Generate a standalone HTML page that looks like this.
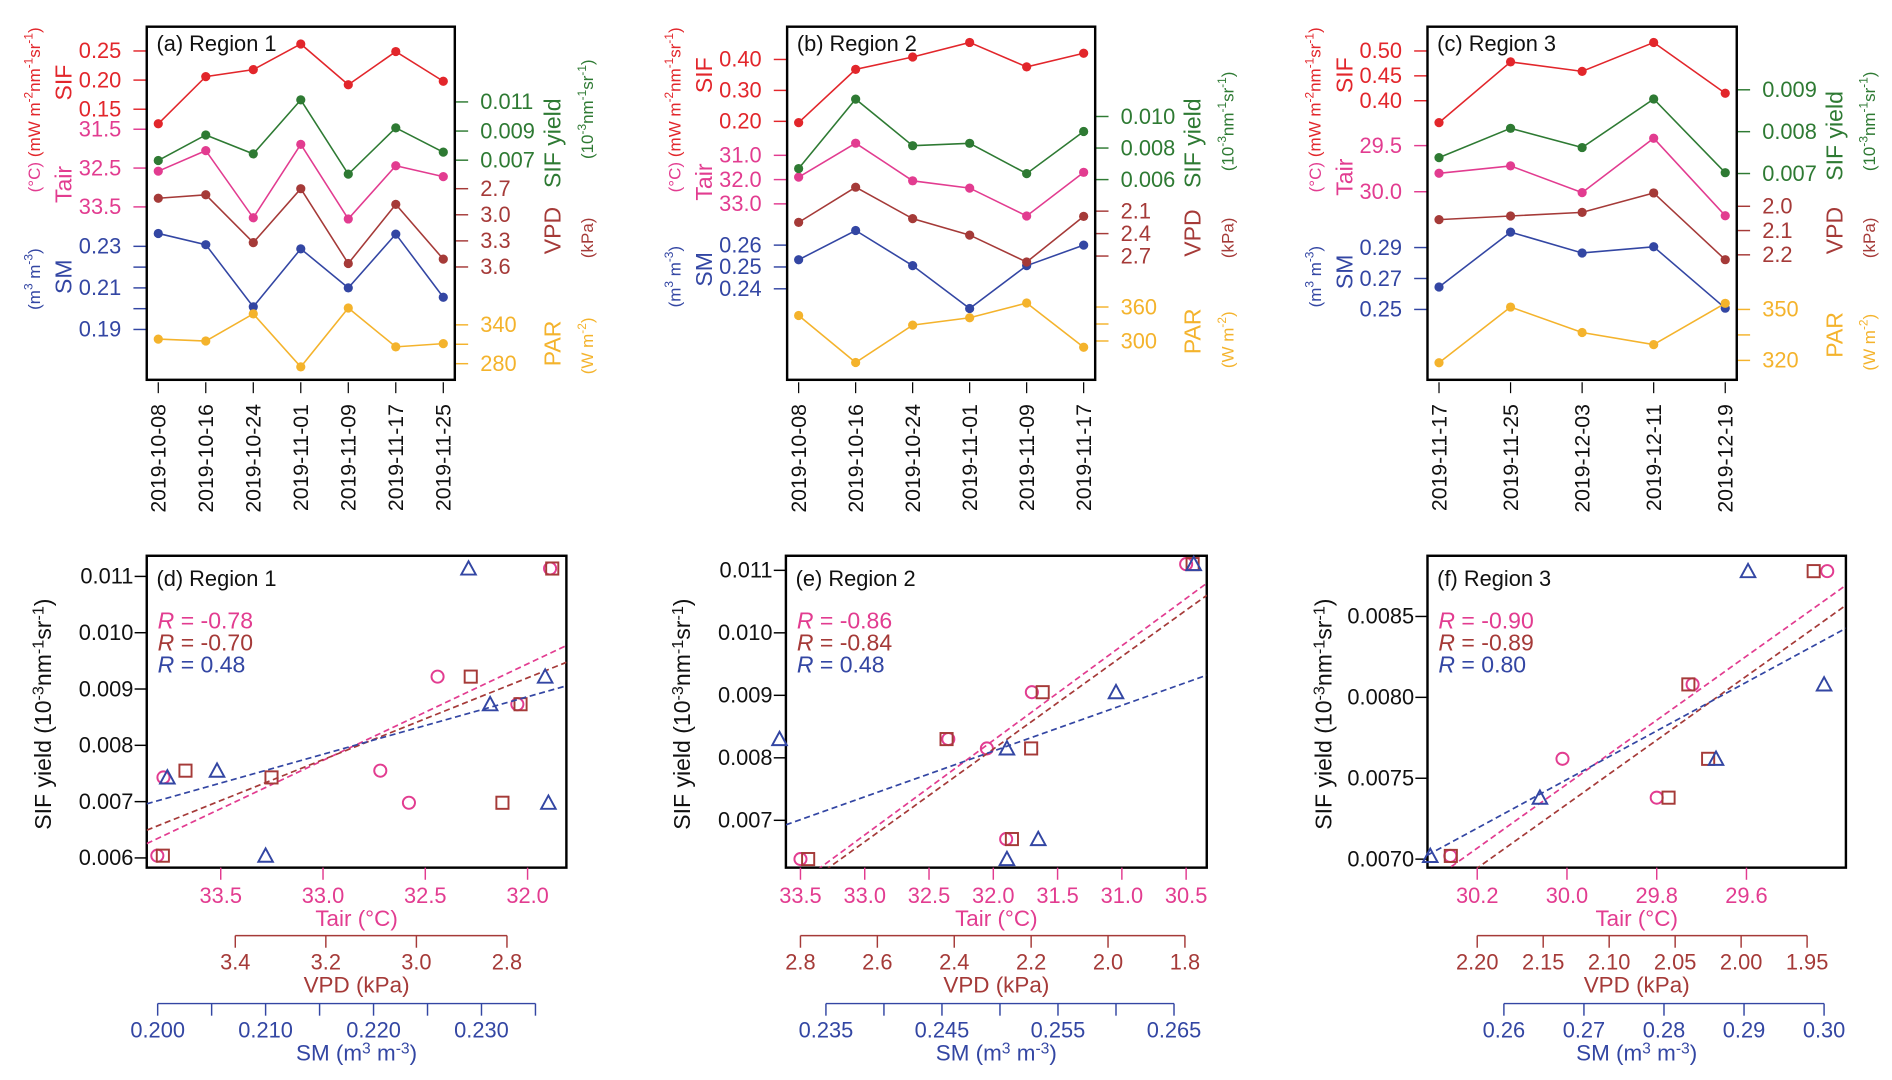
<!DOCTYPE html>
<html><head><meta charset="utf-8">
<style>
html,body{margin:0;padding:0;background:#fff;}
svg{display:block;font-family:"Liberation Sans",Arial,sans-serif;}
</style></head>
<body>
<svg id="fig" xmlns="http://www.w3.org/2000/svg" width="1892" height="1080" viewBox="0 0 1560 890" preserveAspectRatio="none">
<defs>
<clipPath id="clipD"><rect x="121" y="458" width="346" height="257"/></clipPath>
<clipPath id="clipE"><rect x="648" y="458" width="347" height="257"/></clipPath>
<clipPath id="clipF"><rect x="1177" y="458" width="345" height="257"/></clipPath>
</defs>
</svg>
<script>
// ---- data ----
const datesA=["2019-10-08","2019-10-16","2019-10-24","2019-11-01","2019-11-09","2019-11-17","2019-11-25"];
const sifA=[0.125,0.206,0.218,0.262,0.192,0.249,0.198];
const yieldA=[0.00698,0.00873,0.00743,0.01114,0.00604,0.00922,0.00755];
const tairA=[32.58,32.05,33.78,31.89,33.81,32.44,32.72];
const vpdA=[2.81,2.77,3.32,2.70,3.56,2.88,3.51];
const smA=[0.2362,0.2308,0.2009,0.2288,0.2100,0.2359,0.2055];
const parA=[318,315,357,275,366,306,311];

const datesB=["2019-10-08","2019-10-16","2019-10-24","2019-11-01","2019-11-09","2019-11-17"];
const sifB=[0.196,0.368,0.408,0.455,0.376,0.42];
const yieldB=[0.0067,0.0111,0.00815,0.0083,0.00638,0.00905];
const tairB=[31.9,30.5,32.05,32.35,33.5,31.7];
const vpdB=[2.25,1.78,2.2,2.42,2.78,2.17];
const smB=[0.2533,0.2667,0.2506,0.231,0.2506,0.26];
const parB=[345,262,328,341,367,289];

const datesC=["2019-11-17","2019-11-25","2019-12-03","2019-12-11","2019-12-19"];
const sifC=[0.356,0.478,0.459,0.517,0.415];
const yieldC=[0.00738,0.00808,0.00762,0.00878,0.00702];
const tairC=[29.80,29.72,30.01,29.42,30.26];
const vpdC=[2.055,2.04,2.025,1.945,2.22];
const smC=[0.2645,0.30,0.2865,0.2905,0.2508];
const parC=[318.6,351.4,336.4,329.3,353.6];

const rD=["-0.78","-0.70","0.48"];
const rE=["-0.86","-0.84","0.48"];
const rF=["-0.90","-0.89","0.80"];

// ---- helpers ----
const NS='http://www.w3.org/2000/svg';
const svg=document.getElementById('fig');
const COL={sif:'#e2262b',yield:'#2e7a33',tair:'#e23c90',vpd:'#a53a38',sm:'#3346a3',par:'#f4b32c',k:'#111'};
function mk(tag,attrs,parent){const e=document.createElementNS(NS,tag);for(const k in attrs)e.setAttribute(k,attrs[k]);(parent||svg).appendChild(e);return e;}
function lin(d0,d1,r0,r1){return v=>r0+(v-d0)*(r1-r0)/(d1-d0);}
function txt(x,y,s,attrs,parent){const t=mk('text',Object.assign({x:x,y:y},attrs||{}),parent);t.textContent=s;return t;}
function rich(t,parts){parts.forEach(p=>{const s=document.createElementNS(NS,'tspan');s.textContent=p[0];if(p[1]){s.setAttribute('dy','-6');s.setAttribute('font-size','0.7em');}else if(p[2]){s.setAttribute('dy','6');}t.appendChild(s);});}

function tsPanel(cfg){
  const g=mk('g',{});
  
  
  const b=cfg.box,n=cfg.dates.length;
  const xp=i=>b.x0+9.5+i*(b.x1-b.x0-19)/(n-1);
  cfg.series.forEach(s=>{
    const sc=lin(s.dom[0],s.dom[1],s.rng[0],s.rng[1]);
    const left=s.side==='L';
    const ax=left?b.x0:b.x1, dir=left?-1:1;
    const tp=s.ticks.map(sc);
    const ag=mk('g',{},g);
    
    
    mk('line',{x1:ax,x2:ax,y1:Math.min(...tp),y2:Math.max(...tp),stroke:s.color,'stroke-width':1.2},ag);
    s.ticks.forEach((tv,i)=>{
      mk('line',{x1:ax,x2:ax+dir*11,y1:sc(tv),y2:sc(tv),stroke:s.color,'stroke-width':1.2},ag);
      if(s.labels[i]!=='') txt(ax+dir*21,sc(tv)+6,s.labels[i],{'font-size':18,fill:s.color,'text-anchor':left?'end':'start'},ag);
    });
    const cy=s.tcy!==undefined?s.tcy:(Math.min(...tp)+Math.max(...tp))/2;
    const tx=left?b.x0-62:b.x1+87;
    const t1=txt(tx,cy,s.title,{'font-size':19,fill:s.color,'text-anchor':'middle',transform:'rotate(-90 '+tx+' '+cy+')'},ag);
    
    
    const ux=left?b.x0-88:b.x1+114;
    const ucy=s.ucy!==undefined?s.ucy:cy;
    const t2=mk('text',{x:ux,y:ucy,'font-size':14,fill:s.color,'text-anchor':'middle',transform:'rotate(-90 '+ux+' '+ucy+')'},ag);
    rich(t2,s.unit);
    
    
    const pts=s.data.map((v,i)=>xp(i)+','+sc(v)).join(' ');
    const pl=mk('polyline',{points:pts,fill:'none',stroke:s.color,'stroke-width':1.3},g);
    
    
    s.data.forEach((v,i)=>{
      const c=mk('circle',{cx:xp(i),cy:sc(v),r:3.8,fill:s.color},g);
      
      
    });
  });
  const box=mk('rect',{x:b.x0,y:b.y0,width:b.x1-b.x0,height:b.y1-b.y0,fill:'none',stroke:'#000','stroke-width':2},g);
  
  
  const lab=txt(b.x0+8,b.y0+20,cfg.label,{'font-size':18,fill:'#111'},g);
  
  
  cfg.dates.forEach((d,i)=>{
    mk('line',{x1:xp(i),x2:xp(i),y1:b.y1+2,y2:b.y1+11,stroke:'#000','stroke-width':1},g);
    const t=txt(xp(i)+6,b.y1+20,d,{'font-size':17.5,'text-anchor':'end',transform:'rotate(-90 '+(xp(i)+6)+' '+(b.y1+20)+')',fill:'#111'},g);
    
    
  });
}
const U={
  sif:[['(mW m'],['-2',1],['nm',0,1],['-1',1],['sr',0,1],['-1',1],[')',0,1]],
  tair:[['(°C)']],
  sm:[['(m'],['3',1],[' m',0,1],['-3',1],[')',0,1]],
  yield:[['(10'],['-3',1],['nm',0,1],['-1',1],['sr',0,1],['-1',1],[')',0,1]],
  vpd:[['(kPa)']],
  par:[['(W m'],['-2',1],[')',0,1]]
};

tsPanel({name:'panel-a-region1',label:'(a) Region 1',box:{x0:121,x1:375,y0:22,y1:313},dates:datesA,series:[
  {key:'sif',data:sifA,color:COL.sif,side:'L',dom:[0.15,0.25],rng:[90,42],ticks:[0.15,0.20,0.25],labels:['0.15','0.20','0.25'],title:'SIF',unit:U.sif,tcy:68,ucy:76},
  {key:'tair',data:tairA,color:COL.tair,side:'L',dom:[31.5,33.5],rng:[106.5,170.5],ticks:[31.5,32.5,33.5],labels:['31.5','32.5','33.5'],title:'Tair',unit:U.tair,tcy:152,ucy:146},
  {key:'sm',data:smA,color:COL.sm,side:'L',dom:[0.19,0.23],rng:[271.5,203],ticks:[0.19,0.20,0.21,0.22,0.23],labels:['0.19','','0.21','','0.23'],title:'SM',unit:U.sm,tcy:228,ucy:230},
  {key:'yield',data:yieldA,color:COL.yield,side:'R',dom:[0.007,0.011],rng:[132,84],ticks:[0.007,0.009,0.011],labels:['0.007','0.009','0.011'],title:'SIF yield',unit:U.yield,tcy:118,ucy:90},
  {key:'vpd',data:vpdA,color:COL.vpd,side:'R',dom:[2.7,3.6],rng:[155.5,220],ticks:[2.7,3.0,3.3,3.6],labels:['2.7','3.0','3.3','3.6'],title:'VPD',unit:U.vpd,tcy:190,ucy:196},
  {key:'par',data:parA,color:COL.par,side:'R',dom:[280,340],rng:[299.7,267.7],ticks:[280,310,340],labels:['280','','340'],title:'PAR',unit:U.par,tcy:283,ucy:285}
]});
tsPanel({name:'panel-b-region2',label:'(b) Region 2',box:{x0:649,x1:903,y0:22,y1:313},dates:datesB,series:[
  {key:'sif',data:sifB,color:COL.sif,side:'L',dom:[0.2,0.4],rng:[100,49],ticks:[0.2,0.3,0.4],labels:['0.20','0.30','0.40'],title:'SIF',unit:U.sif,tcy:62,ucy:76},
  {key:'tair',data:tairB,color:COL.tair,side:'L',dom:[31,33],rng:[128,168],ticks:[31,32,33],labels:['31.0','32.0','33.0'],title:'Tair',unit:U.tair,tcy:150,ucy:146},
  {key:'sm',data:smB,color:COL.sm,side:'L',dom:[0.24,0.26],rng:[238,202],ticks:[0.24,0.25,0.26],labels:['0.24','0.25','0.26'],title:'SM',unit:U.sm,tcy:222,ucy:228},
  {key:'yield',data:yieldB,color:COL.yield,side:'R',dom:[0.006,0.010],rng:[148,96],ticks:[0.006,0.008,0.010],labels:['0.006','0.008','0.010'],title:'SIF yield',unit:U.yield,tcy:118,ucy:100},
  {key:'vpd',data:vpdB,color:COL.vpd,side:'R',dom:[2.1,2.7],rng:[174,211],ticks:[2.1,2.4,2.7],labels:['2.1','2.4','2.7'],title:'VPD',unit:U.vpd,tcy:192,ucy:196},
  {key:'par',data:parB,color:COL.par,side:'R',dom:[300,360],rng:[281,253],ticks:[300,330,360],labels:['300','','360'],title:'PAR',unit:U.par,tcy:273,ucy:280}
]});
tsPanel({name:'panel-c-region3',label:'(c) Region 3',box:{x0:1177,x1:1432,y0:22,y1:313},dates:datesC,series:[
  {key:'sif',data:sifC,color:COL.sif,side:'L',dom:[0.40,0.50],rng:[83,42],ticks:[0.40,0.45,0.50],labels:['0.40','0.45','0.50'],title:'SIF',unit:U.sif,tcy:62,ucy:76},
  {key:'tair',data:tairC,color:COL.tair,side:'L',dom:[29.5,30.0],rng:[120,158],ticks:[29.5,30.0],labels:['29.5','30.0'],title:'Tair',unit:U.tair,tcy:146,ucy:146},
  {key:'sm',data:smC,color:COL.sm,side:'L',dom:[0.25,0.29],rng:[255,204],ticks:[0.25,0.27,0.29],labels:['0.25','0.27','0.29'],title:'SM',unit:U.sm,tcy:224,ucy:228},
  {key:'yield',data:yieldC,color:COL.yield,side:'R',dom:[0.007,0.009],rng:[143,74],ticks:[0.007,0.008,0.009],labels:['0.007','0.008','0.009'],title:'SIF yield',unit:U.yield,tcy:112,ucy:100},
  {key:'vpd',data:vpdC,color:COL.vpd,side:'R',dom:[2.0,2.2],rng:[170,210],ticks:[2.0,2.1,2.2],labels:['2.0','2.1','2.2'],title:'VPD',unit:U.vpd,tcy:190,ucy:196},
  {key:'par',data:parC,color:COL.par,side:'R',dom:[320,350],rng:[297,255],ticks:[320,335,350],labels:['320','','350'],title:'PAR',unit:U.par,tcy:276,ucy:282}
]});

// ---- scatter panels ----
function fit(x,y){const n=x.length,mx=x.reduce((a,b)=>a+b)/n,my=y.reduce((a,b)=>a+b)/n;let sxy=0,sxx=0;for(let i=0;i<n;i++){sxy+=(x[i]-mx)*(y[i]-my);sxx+=(x[i]-mx)**2;}const b=sxy/sxx;return [my-b*mx,b];}
function scPanel(cfg){
  const g=mk('g',{});
  
  
  const b=cfg.box;
  const ys=lin(cfg.y.dom[0],cfg.y.dom[1],cfg.y.rng[0],cfg.y.rng[1]);
  const box=mk('rect',{x:b.x0,y:b.y0,width:b.x1-b.x0,height:b.y1-b.y0,fill:'none',stroke:'#000','stroke-width':2},g);
  
  
  const lab=txt(b.x0+8,b.y0+25,cfg.label,{'font-size':18,fill:'#111'},g);
  
  
  const yg=mk('g',{},g);
  
  
  const ytp=cfg.y.ticks.map(ys);
  mk('line',{x1:b.x0,x2:b.x0,y1:Math.min(...ytp),y2:Math.max(...ytp),stroke:'#000'},yg);
  cfg.y.ticks.forEach((t,i)=>{mk('line',{x1:b.x0-10,x2:b.x0,y1:ys(t),y2:ys(t),stroke:'#000','stroke-width':1.2},yg);txt(b.x0-11,ys(t)+6,cfg.y.labels[i],{'font-size':18,'text-anchor':'end',fill:'#111'},yg);});
  const tx=b.x0-79,ty=(b.y0+b.y1)/2+2;
  const yt=mk('text',{x:tx,y:ty,'font-size':19,'text-anchor':'middle',fill:'#111',transform:'rotate(-90 '+tx+' '+ty+')'},yg);
  rich(yt,[['SIF yield (10'],['-3',1],['nm',0,1],['-1',1],['sr',0,1],['-1',1],[')',0,1]]);
  
  
  const axes=[
    {key:'tair',a:cfg.tair,color:COL.tair,ly:b.y1,title:[['Tair (°C)']],sym:'circle'},
    {key:'vpd',a:cfg.vpd,color:COL.vpd,ly:771,title:[['VPD (kPa)']],sym:'square'},
    {key:'sm',a:cfg.sm,color:COL.sm,ly:827,title:[['SM (m'],['3',1],[' m',0,1],['-3',1],[')',0,1]],sym:'tri'}
  ];
  axes.forEach(A=>{
    const xs=lin(A.a.dom[0],A.a.dom[1],A.a.rng[0],A.a.rng[1]);
    const xi=lin(A.a.rng[0],A.a.rng[1],A.a.dom[0],A.a.dom[1]);
    const ag=mk('g',{},g);
    
    
    const tp=A.a.ticks.map(xs);
    if(A.key!=='tair') mk('line',{x1:Math.min(...tp),x2:Math.max(...tp),y1:A.ly,y2:A.ly,stroke:A.color,'stroke-width':1.2},ag);
    A.a.ticks.forEach((t,i)=>{
      mk('line',{x1:xs(t),x2:xs(t),y1:A.ly,y2:A.ly+10,stroke:A.color,'stroke-width':1.2},ag);
      if(A.a.labels[i]!=='') txt(xs(t),A.ly+(A.key==='tair'?29:28),A.a.labels[i],{'font-size':18,'text-anchor':'middle',fill:A.color},ag);
    });
    const tt=mk('text',{x:(b.x0+b.x1)/2,y:A.ly+(A.key==='tair'?48:47),'font-size':18.5,'text-anchor':'middle',fill:A.color},ag);
    rich(tt,A.title);
    
    
    const xv=cfg.data[A.key],yv=cfg.data.yield;
    const f=fit(xv,yv);
    const rl=mk('line',{x1:b.x0,x2:b.x1,y1:ys(f[0]+f[1]*xi(b.x0)),y2:ys(f[0]+f[1]*xi(b.x1)),stroke:A.color,'stroke-width':1.4,'stroke-dasharray':'5,3','clip-path':'url(#'+cfg.clip+')'},g);
    
    
    xv.forEach((v,i)=>{
      const px=xs(v),py=ys(yv[i]);let m;
      if(A.sym==='circle') m=mk('circle',{cx:px,cy:py,r:5,fill:'none',stroke:A.color,'stroke-width':1.6},g);
      else if(A.sym==='square') m=mk('rect',{x:px-5,y:py-5,width:10,height:10,fill:'none',stroke:A.color,'stroke-width':1.6},g);
      else m=mk('polygon',{points:(px-6)+','+(py+5)+' '+(px+6)+','+(py+5)+' '+px+','+(py-6),fill:'none',stroke:A.color,'stroke-width':1.6},g);
      
      
    });
  });
  const rc=[COL.tair,COL.vpd,COL.sm];
  cfg.r.forEach((r,i)=>{
    const t=mk('text',{x:b.x0+9,y:518+i*18,'font-size':19,fill:rc[i]},g);
    const s1=document.createElementNS(NS,'tspan');s1.setAttribute('font-style','italic');s1.textContent='R';t.appendChild(s1);
    const s2=document.createElementNS(NS,'tspan');s2.textContent=' = '+r;t.appendChild(s2);
    
    
  });
}
scPanel({name:'panel-d-region1',label:'(d) Region 1',clip:'clipD',box:{x0:121,x1:467,y0:458,y1:715},r:rD,
  data:{yield:yieldA,tair:tairA,vpd:vpdA,sm:smA},
  y:{dom:[0.006,0.011],rng:[707,475],ticks:[0.006,0.007,0.008,0.009,0.010,0.011],labels:['0.006','0.007','0.008','0.009','0.010','0.011']},
  tair:{dom:[33.5,32.0],rng:[182,435],ticks:[33.5,33.0,32.5,32.0],labels:['33.5','33.0','32.5','32.0']},
  vpd:{dom:[3.4,2.8],rng:[194,418],ticks:[3.4,3.2,3.0,2.8],labels:['3.4','3.2','3.0','2.8']},
  sm:{dom:[0.2,0.23],rng:[130,397],ticks:[0.2,0.205,0.21,0.215,0.22,0.225,0.23,0.235],labels:['0.200','','0.210','','0.220','','0.230','']}});
scPanel({name:'panel-e-region2',label:'(e) Region 2',clip:'clipE',box:{x0:648,x1:995,y0:458,y1:715},r:rE,
  data:{yield:yieldB,tair:tairB,vpd:vpdB,sm:smB},
  y:{dom:[0.007,0.011],rng:[676,470],ticks:[0.007,0.008,0.009,0.010,0.011],labels:['0.007','0.008','0.009','0.010','0.011']},
  tair:{dom:[33.5,30.5],rng:[660,978],ticks:[33.5,33.0,32.5,32.0,31.5,31.0,30.5],labels:['33.5','33.0','32.5','32.0','31.5','31.0','30.5']},
  vpd:{dom:[2.8,1.8],rng:[660,977],ticks:[2.8,2.6,2.4,2.2,2.0,1.8],labels:['2.8','2.6','2.4','2.2','2.0','1.8']},
  sm:{dom:[0.235,0.265],rng:[681,968],ticks:[0.235,0.24,0.245,0.25,0.255,0.26,0.265],labels:['0.235','','0.245','','0.255','','0.265']}});
scPanel({name:'panel-f-region3',label:'(f) Region 3',clip:'clipF',box:{x0:1177,x1:1522,y0:458,y1:715},r:rF,
  data:{yield:yieldC,tair:tairC,vpd:vpdC,sm:smC},
  y:{dom:[0.007,0.0085],rng:[708,508],ticks:[0.007,0.0075,0.008,0.0085],labels:['0.0070','0.0075','0.0080','0.0085']},
  tair:{dom:[30.2,29.6],rng:[1218,1440],ticks:[30.2,30.0,29.8,29.6],labels:['30.2','30.0','29.8','29.6']},
  vpd:{dom:[2.2,1.95],rng:[1218,1490],ticks:[2.2,2.15,2.1,2.05,2.0,1.95],labels:['2.20','2.15','2.10','2.05','2.00','1.95']},
  sm:{dom:[0.26,0.30],rng:[1240,1504],ticks:[0.26,0.27,0.28,0.29,0.30],labels:['0.26','0.27','0.28','0.29','0.30']}});
</script>
</body></html>
